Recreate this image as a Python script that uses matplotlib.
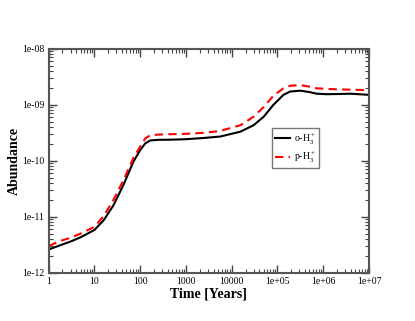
import numpy as np
from matplotlib import pyplot as plt
from matplotlib.ticker import LogLocator, FixedLocator, FixedFormatter, NullFormatter

# values (time in years, abundance)
t_ortho = [1, 1.8, 3, 5, 10, 16, 26, 43, 71, 100, 129, 166, 250, 447, 1000,
           2500, 5600, 15500, 30000, 50000, 81000, 135000, 190000, 316000,
           500000, 724000, 1.2e6, 2e6, 4e6, 1e7]
ortho = [2.6e-12, 3.1e-12, 3.6e-12, 4.3e-12, 5.8e-12, 8.7e-12, 1.6e-11, 3.7e-11,
         9.6e-11, 1.55e-10, 2.04e-10, 2.3e-10, 2.36e-10, 2.37e-10, 2.42e-10,
         2.55e-10, 2.7e-10, 3.3e-10, 4.3e-10, 6.1e-10, 9.9e-10, 1.5e-09,
         1.72e-09, 1.78e-09, 1.68e-09, 1.57e-09, 1.54e-09, 1.55e-09, 1.57e-09,
         1.5e-09]
t_para = [1, 1.8, 3, 5, 10, 16, 26, 43, 71, 100, 129, 166, 250, 447, 1000,
          2500, 5600, 15500, 30000, 50000, 81000, 135000, 190000, 316000,
          500000, 724000, 2e6, 1e7]
para = [3.0e-12, 3.7e-12, 4.2e-12, 5.0e-12, 6.6e-12, 1.03e-11, 2.0e-11, 4.5e-11,
        1.12e-10, 1.8e-10, 2.5e-10, 2.85e-10, 2.93e-10, 2.97e-10, 3.02e-10,
        3.15e-10, 3.4e-10, 4.3e-10, 6.1e-10, 9.1e-10, 1.44e-09, 1.96e-09,
        2.18e-09, 2.24e-09, 2.1e-09, 1.96e-09, 1.88e-09, 1.82e-09]

xticks = [1, 10, 100, 1000, 10000, 1e5, 1e6, 1e7]
xlabels = ["1", "10", "100", "1000", "10000", "1e+05", "1e+06", "1e+07"]
yticks = [1e-12, 1e-11, 1e-10, 1e-9, 1e-8]
ylabels = ["1e-12", "1e-11", "1e-10", "1e-09", "1e-08"]

plt.rcParams['font.family'] = ['Liberation Serif', 'DejaVu Serif']
plt.rcParams['mathtext.fontset'] = 'custom'
plt.rcParams['mathtext.rm'] = 'Liberation Serif'

fig = plt.figure(figsize=(4.15, 3.21), dpi=100)
ax = fig.add_axes([48.7/415, 1 - 272.7/321, (369 - 48.7)/415, (272.7 - 48.7)/321])

ax.loglog(t_ortho, ortho, color='black', lw=1.5, label=r'o-H$_3^+$')
ax.loglog(t_para, para, color='red', lw=1.5, ls=(0, (4, 2.5)), label=r'p-H$_3^+$')

ax.set_xlim(1, 1e7)
ax.set_ylim(1e-12, 1e-8)
ax.xaxis.set_major_locator(FixedLocator(xticks))
ax.xaxis.set_major_formatter(FixedFormatter(xlabels))
ax.yaxis.set_major_locator(FixedLocator(yticks))
ax.yaxis.set_major_formatter(FixedFormatter(ylabels))
ax.xaxis.set_minor_locator(LogLocator(base=10, subs=np.arange(2, 10), numticks=20))
ax.yaxis.set_minor_locator(LogLocator(base=10, subs=np.arange(2, 10), numticks=20))
ax.xaxis.set_minor_formatter(NullFormatter())
ax.yaxis.set_minor_formatter(NullFormatter())

ax.tick_params(which='both', direction='in', top=True, right=True, labelsize=7,
               color='#444444', pad=3)
ax.tick_params(which='major', length=6, width=1)
ax.tick_params(which='minor', length=3, width=0.8)
for s in ax.spines.values():
    s.set_color('#555555')
    s.set_linewidth(1.5)

ax.set_xlabel('Time [Years]', fontsize=10, fontweight='bold', labelpad=1.5)
ax.set_ylabel('Abundance', fontsize=10, fontweight='bold', labelpad=1)

leg = ax.legend(loc='upper left', bbox_to_anchor=((272 - 48.7)/320.3, (272.7 - 128.3)/224),
                borderaxespad=0, fontsize=7, frameon=True, fancybox=False,
                handlelength=1.5, borderpad=0.3, labelspacing=0.3, handletextpad=0.5)
leg.get_frame().set_edgecolor('#555555')
leg.get_frame().set_linewidth(1.0)

fig.savefig('out.png', dpi=100)
